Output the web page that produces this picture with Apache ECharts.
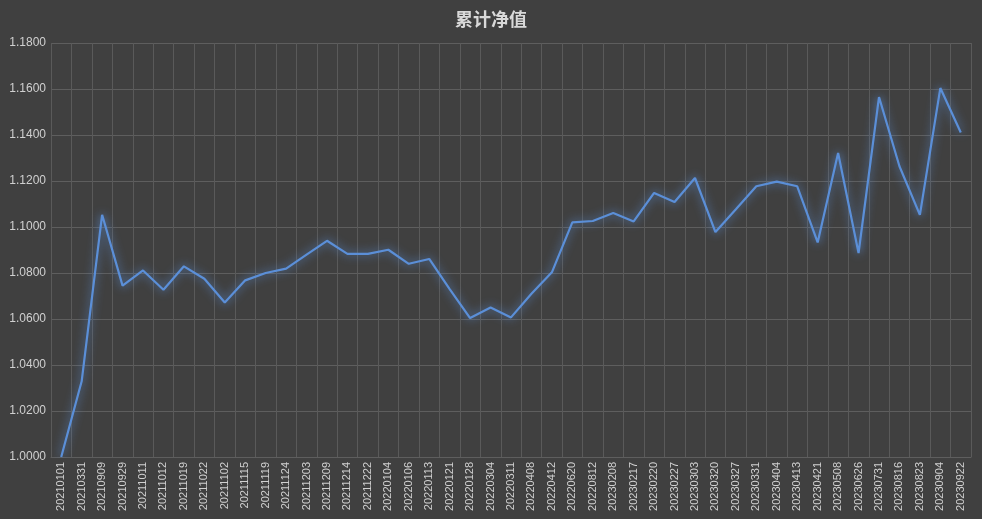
<!DOCTYPE html>
<html>
<head>
<meta charset="utf-8">
<script src="https://cdn.jsdelivr.net/npm/echarts@6/dist/echarts.min.js"></script>
<style>
html,body{margin:0;padding:0;background:#404040;}
#chart{width:982px;height:519px;}
</style>
</head>
<body>
<div id="chart"></div>
<script>
const titleText = '累计净值';
const dates = ['20210101','20210331','20210909','20210929','20211011','20211012','20211019','20211022','20211102','20211115','20211119','20211124','20211203','20211209','20211214','20211222','20220104','20220106','20220113','20220121','20220128','20220304','20220311','20220408','20220412','20220620','20220812','20230208','20230217','20230220','20230227','20230303','20230320','20230327','20230331','20230404','20230413','20230421','20230508','20230626','20230731','20230816','20230823','20230904','20230922'];
const navValues = [1.0000,1.0329,1.1053,1.0745,1.0811,1.0727,1.0829,1.0775,1.0672,1.0768,1.0800,1.0819,1.0880,1.0940,1.0883,1.0883,1.0901,1.0840,1.0861,1.0730,1.0604,1.0650,1.0607,1.0710,1.0803,1.1020,1.1026,1.1061,1.1024,1.1148,1.1109,1.1213,1.0978,1.1077,1.1177,1.1197,1.1177,1.0933,1.1322,1.0887,1.1565,1.1264,1.1053,1.1604,1.1411];
const yMin = 1.0, yMax = 1.18, yStep = 0.02;

const chart = echarts.init(document.getElementById('chart'));
chart.setOption({
  backgroundColor: '#404040',
  animation: false,
  title: {
    text: titleText,
    left: 'center',
    top: 5,
    textStyle: { color: '#d9d9d9', fontSize: 18, fontWeight: 'bold', fontFamily: 'Noto Sans CJK SC' }
  },
  grid: { left: 51, right: 11, top: 43, bottom: 62, containLabel: false },
  xAxis: {
    type: 'category',
    data: dates,
    boundaryGap: true,
    axisLine: { show: true, lineStyle: { color: '#5e5e5e' } },
    axisTick: { show: false },
    axisLabel: { rotate: 90, interval: 0, color: '#d0d0d0', fontSize: 11, margin: 5, fontFamily: 'Liberation Sans' },
    splitLine: { show: true, interval: 0, lineStyle: { color: '#5a5a5a', width: 1 } }
  },
  yAxis: {
    type: 'value',
    min: yMin, max: yMax, interval: yStep,
    axisLine: { show: false },
    axisTick: { show: false },
    axisLabel: { color: '#d0d0d0', fontSize: 12, margin: 5, fontFamily: 'Liberation Sans', formatter: v => v.toFixed(4) },
    splitLine: { lineStyle: { color: '#5e5e5e', width: 1 } }
  },
  series: [{
    type: 'line',
    data: navValues,
    symbol: 'none',
    lineStyle: { color: '#5b8fd8', width: 2.2, shadowColor: 'rgba(91,143,216,1)', shadowBlur: 10 },
    itemStyle: { color: '#5b8fd8' }
  }]
});
</script>
</body>
</html>
